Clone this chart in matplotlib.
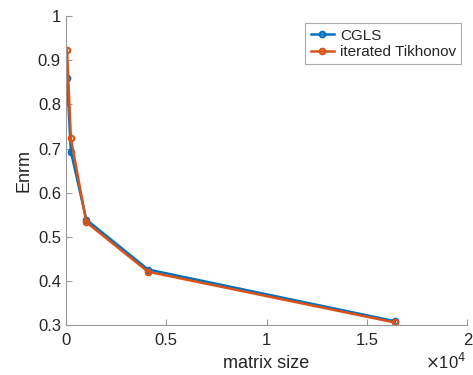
import matplotlib
matplotlib.use("Agg")
import matplotlib.pyplot as plt

plt.rcParams['font.family'] = ['Liberation Sans', 'DejaVu Sans']

sizes = [64, 256, 1024, 4096, 16384]
cgls = [0.860, 0.693, 0.539, 0.426, 0.309]
tikhonov = [0.923, 0.723, 0.533, 0.421, 0.306]

BLUE = (0.0, 0.447, 0.741)
ORANGE = (0.85, 0.325, 0.098)
AXC = (0.15, 0.15, 0.15)
SPINE = (0.6, 0.6, 0.6)

fig = plt.figure(figsize=(4.73, 3.75), dpi=100, facecolor="white")
ax = fig.add_axes([0.139, 0.133, 0.849, 0.824])

ax.plot(sizes, cgls, "-o", color=BLUE, lw=1.8, ms=4, mfc="none", mew=1.5,
        label="CGLS")
ax.plot(sizes, tikhonov, "-o", color=ORANGE, lw=1.8, ms=4, mfc="none", mew=1.5,
        label="iterated Tikhonov")

ax.set_xlim(0, 20000)
ax.set_ylim(0.3, 1.0)
ax.set_xticks([0, 5000, 10000, 15000, 20000])
ax.set_xticklabels(["0", "0.5", "1", "1.5", "2"])
ax.set_yticks([0.3, 0.4, 0.5, 0.6, 0.7, 0.8, 0.9, 1.0])
ax.set_yticklabels(["0.3", "0.4", "0.5", "0.6", "0.7", "0.8", "0.9", "1"])

for s in ("top", "right"):
    ax.spines[s].set_visible(False)
for s in ("left", "bottom"):
    ax.spines[s].set_color(SPINE)
    ax.spines[s].set_linewidth(0.8)
ax.tick_params(direction="in", length=4, width=0.8, color=SPINE,
               labelcolor=AXC, labelsize=12)
ax.tick_params(axis="x", pad=6)

ax.set_xlabel("matrix size", fontsize=13, color=AXC, labelpad=5)
ax.set_ylabel("Enrm", fontsize=13, color=AXC, labelpad=4)

fig.text(0.985, 0.008, r"$\times$10$^4$", ha="right", va="bottom",
         fontsize=12, color=AXC)

leg = ax.legend(loc="upper right", fontsize=11, frameon=True, fancybox=False,
                handlelength=1.5, borderpad=0.35, labelspacing=0.15,
                handletextpad=0.4, borderaxespad=0,
                bbox_to_anchor=(0.985, 0.977))
leg.get_frame().set_edgecolor(SPINE)
leg.get_frame().set_linewidth(0.8)
for t in leg.get_texts():
    t.set_color(AXC)

fig.savefig("out.png", facecolor="white")
